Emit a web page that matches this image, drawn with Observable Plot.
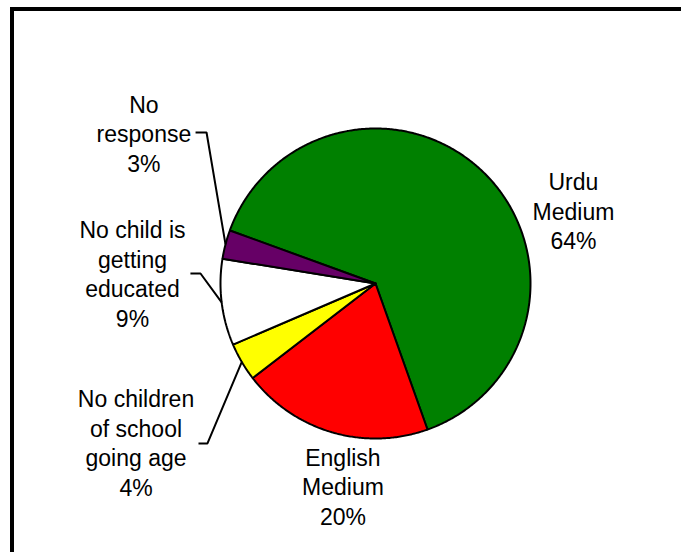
<!DOCTYPE html>
<html>
<head>
<meta charset="utf-8">
<script src="https://cdn.jsdelivr.net/npm/d3@7"></script>
<script src="https://cdn.jsdelivr.net/npm/@observablehq/plot@0.6"></script>
<style>
  html, body { margin: 0; padding: 0; background: white; }
  #wrap { position: relative; width: 681px; height: 552px; overflow: hidden; }
  #frame { position: absolute; left: 10px; top: 7px; width: 700px; height: 600px;
           border-top: 4px solid black; border-left: 4px solid black; pointer-events: none; }
  #chart svg { display: block; }
</style>
</head>
<body>
<div id="wrap"><div id="chart"></div><div id="frame"></div></div>
<script>
// ---- data ----
const categories = ["Urdu Medium", "English Medium", "No children of school going age", "No child is getting educated", "No response"];
const values = [64, 20, 4, 9, 3];
const labelLines = [["Urdu", "Medium"], ["English", "Medium"], ["No children", "of school", "going age"], ["No child is", "getting", "educated"], ["No", "response"]];
const colors = ["#008000", "#ff0000", "#ffff00", "#ffffff", "#660066"];

// ---- layout (radius units, relative to pie centre) ----
const startDeg = -70;
const labelPos = [[1.277, 0.471], [-0.21, -1.305], [-1.545, -1.023], [-1.568, 0.067], [-1.494, 0.972]];
const leaderTick = [null, null, [-1.142, -1.084, -1.032], [-1.194, -1.129, 0.0645], [-1.161, -1.090, 0.974]];

const pie = d3.pie().sort(null).value(d => d)
  .startAngle(startDeg * Math.PI / 180)
  .endAngle(startDeg * Math.PI / 180 + 2 * Math.PI);
const arcs = pie(values);

function slicePoints(a) {
  const n = Math.max(2, Math.ceil((a.endAngle - a.startAngle) / (Math.PI / 360)));
  const pts = [{x: 0, y: 0}];
  for (let i = 0; i <= n; i++) {
    const t = a.startAngle + (a.endAngle - a.startAngle) * i / n;
    pts.push({x: Math.sin(t), y: Math.cos(t)});
  }
  pts.push({x: 0, y: 0});
  return pts;
}

const marks = [];
arcs.forEach((a, i) => {
  marks.push(Plot.line(slicePoints(a), {x: "x", y: "y", fill: colors[i], stroke: "black", strokeWidth: 2, strokeLinejoin: "miter"}));
});
arcs.forEach((a, i) => {
  const tk = leaderTick[i];
  if (!tk) return;
  const mid = (a.startAngle + a.endAngle) / 2;
  const pts = [{x: tk[0], y: tk[2]}, {x: tk[1], y: tk[2]}, {x: Math.sin(mid), y: Math.cos(mid)}];
  marks.push(Plot.line(pts, {x: "x", y: "y", stroke: "black", strokeWidth: 2, strokeLinejoin: "miter", strokeLinecap: "butt"}));
});
const labels = categories.map((c, i) => ({
  x: labelPos[i][0], y: labelPos[i][1],
  text: labelLines[i].join("\n") + "\n" + values[i] + "%"
}));
marks.push(Plot.text(labels, {x: "x", y: "y", text: "text", textAnchor: "middle", lineAnchor: "middle",
  lineHeight: 1.283, fontSize: 23, fill: "black"}));

const chart = Plot.plot({
  width: 681, height: 552,
  marginLeft: 220, marginRight: 151, marginTop: 128, marginBottom: 114,
  x: {domain: [-1, 1], axis: null},
  y: {domain: [-1, 1], axis: null},
  style: {background: "transparent", fontFamily: "'Liberation Sans', Arial, sans-serif", fontSize: "23px", overflow: "visible"},
  marks
});
document.getElementById("chart").appendChild(chart);
</script>
</body>
</html>
